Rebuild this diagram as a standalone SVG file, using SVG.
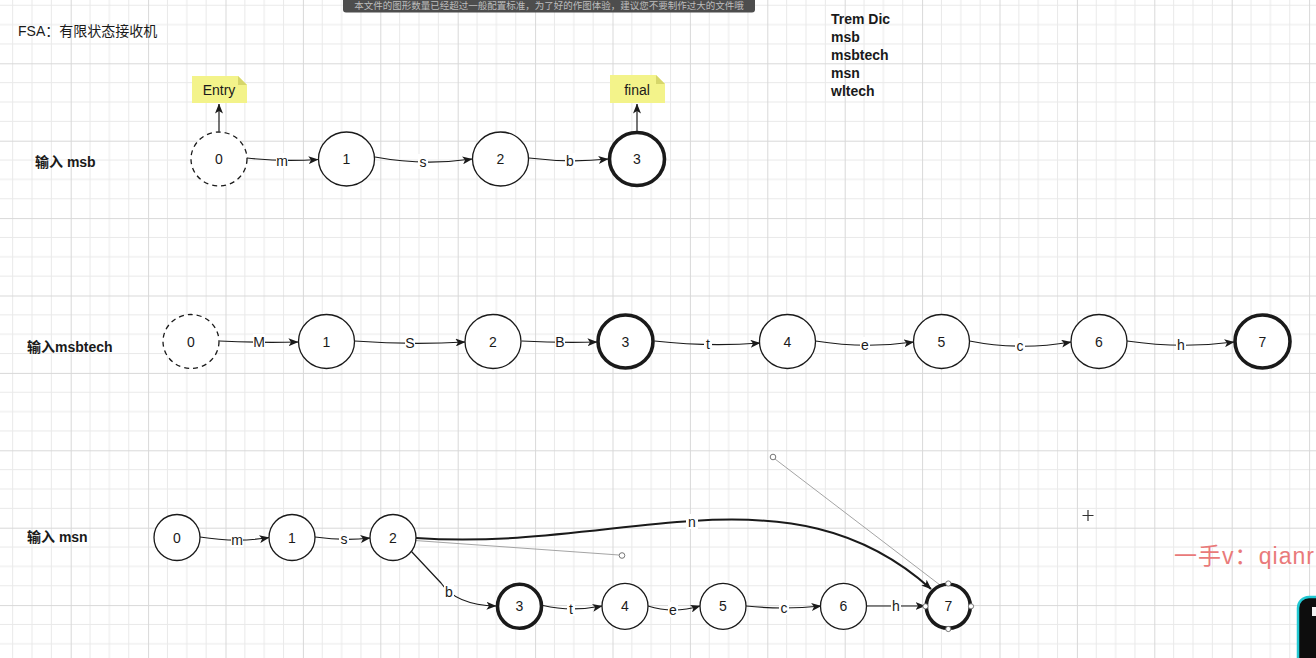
<svg xmlns="http://www.w3.org/2000/svg" width="1316" height="658" viewBox="0 0 1316 658">
  <style>
    text { font-family: "Liberation Sans", "Noto Sans CJK SC", sans-serif; fill: #1a1a1a; }
    .st { fill: #ffffff; stroke: #1a1a1a; stroke-width: 1.3; }
    .start { stroke-dasharray: 5 4; }
    .accept { stroke-width: 3.6; }
    .nl { font-size: 14px; text-anchor: middle; dominant-baseline: central; }
    .el { font-size: 14px; text-anchor: middle; dominant-baseline: central; }
    .lbg { fill: #ffffff; }
    .edge { fill: none; stroke: #1a1a1a; stroke-width: 1.2; marker-end: url(#arr); }
    .edge-bold { fill: none; stroke: #1a1a1a; stroke-width: 2; marker-end: url(#arr); }
    .hint { fill: none; stroke: #9a9a9a; stroke-width: 0.9; }
    .hnd { fill: #ffffff; stroke: #666666; stroke-width: 0.9; }
    .title { font-size: 14px; font-weight: bold; }
    .note { fill: #f3f38a; }
    .fold { fill: #d6d66a; }
  </style>
  <defs>
    <pattern id="grid" patternUnits="userSpaceOnUse" x="70.7" y="63.3" width="77.4" height="77.4">
      <path d="M19.35 0V77.4M38.7 0V77.4M58.05 0V77.4M0 19.35H77.4M0 38.7H77.4M0 58.05H77.4" stroke="#e9e9e9" stroke-width="1" fill="none"/>
      <path d="M0.5 0V77.4M0 0.5H77.4" stroke="#d8d8d8" stroke-width="1" fill="none"/>
    </pattern>
    <marker id="arr" viewBox="0 0 10 8" refX="9.5" refY="4" markerWidth="10" markerHeight="8" markerUnits="userSpaceOnUse" orient="auto">
      <path d="M0 0L10 4L0 8L2.5 4Z" fill="#1a1a1a"/>
    </marker>
  </defs>

  <!-- canvas -->
  <rect width="1316" height="658" fill="#ffffff"/>
  <rect width="1316" height="658" fill="url(#grid)"/>

  <!-- toast bar at the top -->
  <g id="toast">
    <rect x="343" y="-8" width="412" height="20.5" rx="3" fill="#4d4d4d"/>
    <text x="549" y="8.5" font-size="9.5" text-anchor="middle" style="fill:#bdbdbd">本文件的图形数量已经超过一般配置标准，为了好的作图体验，建议您不要制作过大的文件哦</text>
  </g>

  <!-- headings -->
  <text x="18" y="36" font-size="14">FSA：有限状态接收机</text>
  <g id="dict">
    <text class="title" x="831" y="23.5">Trem Dic</text>
    <text class="title" x="831" y="41.5">msb</text>
    <text class="title" x="831" y="59.5">msbtech</text>
    <text class="title" x="831" y="77.5">msn</text>
    <text class="title" x="831" y="95.5">wltech</text>
  </g>
  <text class="title" x="35" y="167">输入 msb</text>
  <text class="title" x="27" y="352">输入msbtech</text>
  <text class="title" x="27" y="542">输入 msn</text>

  <!-- connectors -->
  <g id="connectors">
    <!-- row 1 -->
    <path class="edge" d="M219 131.5V104"/>
    <path class="edge" d="M637 131V104"/>
    <path class="edge" d="M247 158Q282 162 318 159.5"/>
    <path class="edge" d="M375 157Q423 166 472 159"/>
    <path class="edge" d="M529 158Q570 163 608 159"/>
    <!-- row 2 -->
    <path class="edge" d="M219.5 341Q259 343 298 342"/>
    <path class="edge" d="M354.5 341Q410 345 465 342"/>
    <path class="edge" d="M521.5 341Q560 343 597 342"/>
    <path class="edge" d="M654.5 341Q708 347 760 343"/>
    <path class="edge" d="M815.5 341Q865 349 913.5 342"/>
    <path class="edge" d="M969.5 341Q1020 351 1071 342"/>
    <path class="edge" d="M1127 341Q1181 349 1234 342"/>
    <!-- row 3 -->
    <path class="edge" d="M200 537Q237 543 269 537.5"/>
    <path class="edge" d="M315 537Q344 541 370 538"/>
    <path class="edge" d="M411 551L441 583Q456 605 496 606"/>
    <path class="edge" d="M543 605.5Q571 612 602 606"/>
    <path class="edge" d="M648 606Q673 614 700 606"/>
    <path class="edge" d="M746 606Q784 610 821 606"/>
    <path class="edge" d="M866 606Q896 606 925 606"/>
    <path class="edge-bold" d="M416 538C520 545 610 526 692 521C780 515 860 525 931 589"/>
    <!-- control handles of the selected curve -->
    <path class="hint" d="M415 540.5L619 555"/>
    <path class="hint" d="M775 459L940 585"/>
    <circle class="hnd" cx="622" cy="555.5" r="2.8"/>
    <circle class="hnd" cx="773" cy="457" r="2.8"/>
    <!-- label backgrounds and labels -->
    <g>
      <rect class="lbg" x="276" y="153" width="12" height="15"/><text class="el" x="282" y="161">m</text>
      <rect class="lbg" x="418" y="154" width="10" height="15"/><text class="el" x="423" y="162">s</text>
      <rect class="lbg" x="565" y="153" width="10" height="15"/><text class="el" x="570" y="161">b</text>

      <rect class="lbg" x="253" y="334" width="12" height="15"/><text class="el" x="259" y="342">M</text>
      <rect class="lbg" x="405" y="335" width="10" height="15"/><text class="el" x="410" y="343">S</text>
      <rect class="lbg" x="555" y="334" width="10" height="15"/><text class="el" x="560" y="342">B</text>
      <rect class="lbg" x="704" y="336" width="8" height="15"/><text class="el" x="708" y="344">t</text>
      <rect class="lbg" x="860" y="337" width="10" height="15"/><text class="el" x="865" y="345">e</text>
      <rect class="lbg" x="1015" y="338" width="10" height="15"/><text class="el" x="1020" y="346">c</text>
      <rect class="lbg" x="1176" y="337" width="10" height="15"/><text class="el" x="1181" y="345">h</text>

      <rect class="lbg" x="231" y="532" width="12" height="15"/><text class="el" x="237" y="540">m</text>
      <rect class="lbg" x="339" y="531" width="10" height="15"/><text class="el" x="344" y="539">s</text>
      <rect class="lbg" x="444" y="584" width="10" height="15"/><text class="el" x="449" y="592">b</text>
      <rect class="lbg" x="567" y="601" width="8" height="15"/><text class="el" x="571" y="609">t</text>
      <rect class="lbg" x="668" y="602" width="10" height="15"/><text class="el" x="673" y="610">e</text>
      <rect class="lbg" x="779" y="600" width="10" height="15"/><text class="el" x="784" y="608">c</text>
      <rect class="lbg" x="891" y="598" width="10" height="15"/><text class="el" x="896" y="606">h</text>
      <rect class="lbg" x="686" y="514" width="12" height="15"/><text class="el" x="692" y="522">n</text>
    </g>
  </g>

  <!-- notes -->
  <g id="note-entry">
    <path class="note" d="M192 76H238L247 85V103H192Z"/>
    <path class="fold" d="M238 76L247 85H238Z"/>
    <text class="nl" x="219" y="90">Entry</text>
  </g>
  <g id="note-final">
    <path class="note" d="M610 75H656L665 84V103H610Z"/>
    <path class="fold" d="M656 75L665 84H656Z"/>
    <text class="nl" x="637" y="90">final</text>
  </g>

  <!-- row 1: msb -->
  <g id="r1-s0"><ellipse class="st start" cx="219" cy="159" rx="28" ry="27"/><text class="nl" x="219" y="159">0</text></g>
  <g id="r1-s1"><ellipse class="st" cx="346.5" cy="159" rx="28" ry="27"/><text class="nl" x="346.5" y="159">1</text></g>
  <g id="r1-s2"><ellipse class="st" cx="500.5" cy="159" rx="28" ry="27"/><text class="nl" x="500.5" y="159">2</text></g>
  <g id="r1-s3"><ellipse class="st accept" cx="637" cy="159" rx="27.5" ry="26.5"/><text class="nl" x="637" y="159">3</text></g>

  <!-- row 2: msbtech -->
  <g id="r2-s0"><ellipse class="st start" cx="191" cy="341.5" rx="28" ry="27"/><text class="nl" x="191" y="341.5">0</text></g>
  <g id="r2-s1"><ellipse class="st" cx="326.5" cy="341.5" rx="28" ry="27"/><text class="nl" x="326.5" y="341.5">1</text></g>
  <g id="r2-s2"><ellipse class="st" cx="493" cy="341.5" rx="28" ry="27"/><text class="nl" x="493" y="341.5">2</text></g>
  <g id="r2-s3"><ellipse class="st accept" cx="625.5" cy="341.5" rx="27.5" ry="26.5"/><text class="nl" x="625.5" y="341.5">3</text></g>
  <g id="r2-s4"><ellipse class="st" cx="787.5" cy="341.5" rx="28" ry="27"/><text class="nl" x="787.5" y="341.5">4</text></g>
  <g id="r2-s5"><ellipse class="st" cx="941.5" cy="341.5" rx="28" ry="27"/><text class="nl" x="941.5" y="341.5">5</text></g>
  <g id="r2-s6"><ellipse class="st" cx="1099" cy="341.5" rx="28" ry="27"/><text class="nl" x="1099" y="341.5">6</text></g>
  <g id="r2-s7"><ellipse class="st accept" cx="1262.5" cy="341.5" rx="27.5" ry="26.5"/><text class="nl" x="1262.5" y="341.5">7</text></g>

  <!-- row 3: msn / msbtech sharing a prefix -->
  <g id="r3-s0"><circle class="st" cx="177" cy="537.5" r="23"/><text class="nl" x="177" y="537.5">0</text></g>
  <g id="r3-s1"><circle class="st" cx="292" cy="537.5" r="23"/><text class="nl" x="292" y="537.5">1</text></g>
  <g id="r3-s2"><circle class="st" cx="393" cy="537.5" r="23"/><text class="nl" x="393" y="537.5">2</text></g>
  <g id="r3-s3"><circle class="st accept" cx="519.5" cy="606.3" r="22"/><text class="nl" x="519.5" y="606.3">3</text></g>
  <g id="r3-s4"><circle class="st" cx="625" cy="606.3" r="23"/><text class="nl" x="625" y="606.3">4</text></g>
  <g id="r3-s5"><circle class="st" cx="723" cy="606.3" r="23"/><text class="nl" x="723" y="606.3">5</text></g>
  <g id="r3-s6"><circle class="st" cx="843.5" cy="606.3" r="23"/><text class="nl" x="843.5" y="606.3">6</text></g>
  <g id="r3-s7">
    <circle class="st accept" cx="948.3" cy="606.3" r="22"/>
    <text class="nl" x="948.3" y="606.3">7</text>
    <circle class="hnd" cx="948.3" cy="583.5" r="2.6"/>
    <circle class="hnd" cx="948.3" cy="629" r="2.6"/>
    <circle class="hnd" cx="925.5" cy="606.3" r="2.6"/>
    <circle class="hnd" cx="971" cy="606.3" r="2.6"/>
  </g>

  <!-- cursor cross -->
  <path d="M1088 510V521M1082.5 515.5H1093.5" stroke="#333333" stroke-width="1.2"/>

  <!-- watermark -->
  <text x="1174" y="564" font-size="23" textLength="140" lengthAdjust="spacing" style="fill:#e97a7a">一手v：qianr</text>

  <!-- corner widget -->
  <rect x="1298" y="597" width="40" height="80" rx="11" fill="#0d0d0d" stroke="#22c8d2" stroke-width="2.5"/>
  <rect x="1312" y="607" width="4" height="9" fill="#f2f2f2"/>
</svg>
